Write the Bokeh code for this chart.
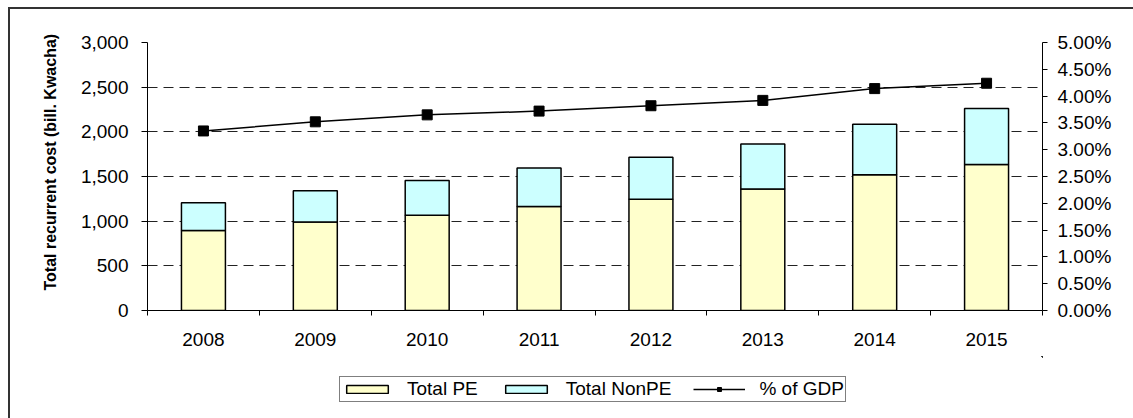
import numpy as np
from bokeh.plotting import figure
from bokeh.layouts import column
from bokeh.models import (Range1d, LinearAxis, FixedTicker, SingleIntervalTicker,
                          NumeralTickFormatter, PrintfTickFormatter, Legend, LegendItem,
                          ColumnDataSource, Title)
from bokeh.embed import file_html
from bokeh.resources import INLINE

# ---- data ----
years = ["2008", "2009", "2010", "2011", "2012", "2013", "2014", "2015"]
total_pe = [895, 990, 1065, 1165, 1245, 1360, 1520, 1635]
total_nonpe = [310, 350, 390, 430, 470, 505, 565, 625]
pct_gdp = [3.35, 3.52, 3.65, 3.72, 3.82, 3.92, 4.14, 4.24]
left_ticks = [0, 500, 1000, 1500, 2000, 2500, 3000]
series_names = ["Total PE", "Total NonPE", "% of GDP"]
y_title = "Total recurrent cost (bill. Kwacha)"

FONT = "Liberation Sans"
FS = "19px"
PE_COLOR = "#FFFFCC"
NONPE_COLOR = "#CCFFFF"

n = len(years)
xc = np.arange(n) + 0.5
pe = np.array(total_pe, dtype=float)
tot = pe + np.array(total_nonpe, dtype=float)

src = ColumnDataSource(dict(x=xc, pe=pe, tot=tot, zero=np.zeros(n), gdp=pct_gdp))

p = figure(frame_width=895, frame_height=268,
           min_border_left=137, min_border_right=91, min_border_top=33, min_border_bottom=46,
           x_range=Range1d(0, n), y_range=Range1d(0, 3000),
           output_backend="svg", toolbar_location=None, tools="")
p.outline_line_color = None
p.background_fill_color = "white"
p.border_fill_color = "white"

p.extra_y_ranges = {"pct": Range1d(0, 5)}

bw = 0.393
bar_style = dict(line_color="black", line_width=1.5)
line_style = dict(line_color="black", line_width=1.5)
sq_style = dict(marker="square", size=10, fill_color="black", line_color="black")


def draw_series(fig, yname=None):
    kw = {} if yname is None else {"y_range_name": yname}
    a = fig.vbar(x="x", bottom="zero", top="pe", width=bw, source=src, fill_color=PE_COLOR, **bar_style)
    b = fig.vbar(x="x", bottom="pe", top="tot", width=bw, source=src, fill_color=NONPE_COLOR, **bar_style)
    c = fig.line(x="x", y="gdp", source=src, **line_style, **kw)
    d = fig.scatter(x="x", y="gdp", source=src, **sq_style, **kw)
    return a, b, c, d


draw_series(p, "pct")

# x axis
xa = p.xaxis[0]
xa.ticker = FixedTicker(ticks=list(xc), minor_ticks=list(np.arange(n + 1)))
xa.major_label_overrides = {float(x): y for x, y in zip(xc, years)}
xa.major_tick_out = 0
xa.major_tick_in = 0
xa.minor_tick_out = 5
xa.minor_tick_in = 0
xa.minor_tick_line_color = "black"
xa.axis_line_color = "black"
xa.major_label_text_font = FONT
xa.major_label_text_font_size = FS
xa.major_label_text_color = "black"
xa.major_label_standoff = 17

# left y axis
ya = p.yaxis[0]
ya.ticker = FixedTicker(ticks=left_ticks)
ya.formatter = NumeralTickFormatter(format="0,0")
ya.major_tick_out = 6
ya.major_tick_in = 0
ya.minor_tick_line_color = None
ya.axis_line_color = "black"
ya.major_tick_line_color = "black"
ya.major_label_text_font = FONT
ya.major_label_text_font_size = FS
ya.major_label_text_color = "black"
ya.major_label_standoff = 13

t = Title(text=y_title, align="left", offset=20, standoff=37,
          text_font=FONT, text_font_size="16px", text_font_style="bold",
          text_color="black")
p.add_layout(t, "left")

# right y axis
ra = LinearAxis(y_range_name="pct")
ra.ticker = SingleIntervalTicker(interval=0.5)
ra.formatter = PrintfTickFormatter(format="%.2f%%")
ra.major_tick_out = 5
ra.major_tick_in = 0
ra.minor_tick_line_color = None
ra.axis_line_color = "black"
ra.major_tick_line_color = "black"
ra.major_label_text_font = FONT
ra.major_label_text_font_size = FS
ra.major_label_text_color = "black"
ra.major_label_standoff = 10
p.add_layout(ra, "right")

# grid
p.xgrid.visible = False
p.ygrid.ticker = FixedTicker(ticks=left_ticks[1:])
p.ygrid.grid_line_color = "#222222"
p.ygrid.grid_line_dash = "10 6"
p.ygrid.grid_line_width = 1

# ---- legend strip: same series drawn in a second figure whose view range
# excludes them, so only the legend swatches appear ----
q = figure(width=1123, height=62, min_border=0,
           x_range=Range1d(-3, -2), y_range=Range1d(-3, -2),
           x_axis_location=None, y_axis_location=None,
           output_backend="svg", toolbar_location=None, tools="")
q.outline_line_color = None
q.xgrid.visible = False
q.ygrid.visible = False
q.background_fill_color = "white"
q.border_fill_color = "white"
l_pe, l_np, l_ln, l_sq = draw_series(q)

legend = Legend(items=[
    LegendItem(label=series_names[0], renderers=[l_pe]),
    LegendItem(label=series_names[1], renderers=[l_np]),
    LegendItem(label=series_names[2], renderers=[l_ln, l_sq]),
], orientation="horizontal", location=(192, 16))
legend.label_text_font = FONT
legend.label_text_font_size = "19px"
legend.label_text_color = "black"
legend.glyph_width = 52
legend.glyph_height = 10
legend.label_height = 14
legend.label_standoff = 14
legend.spacing = 22
legend.padding = 1
legend.margin = 0
legend.border_line_color = "black"
legend.border_line_width = 1
legend.background_fill_color = "white"
legend.background_fill_alpha = 1
q.add_layout(legend, "center")

layout = column(p, q, spacing=0)
layout.styles = {"margin-left": "8px", "margin-top": "7px",
                 "border-left": "2px solid #333333", "border-top": "2px solid #333333"}

open("out.html", "w").write(file_html(layout, INLINE))
